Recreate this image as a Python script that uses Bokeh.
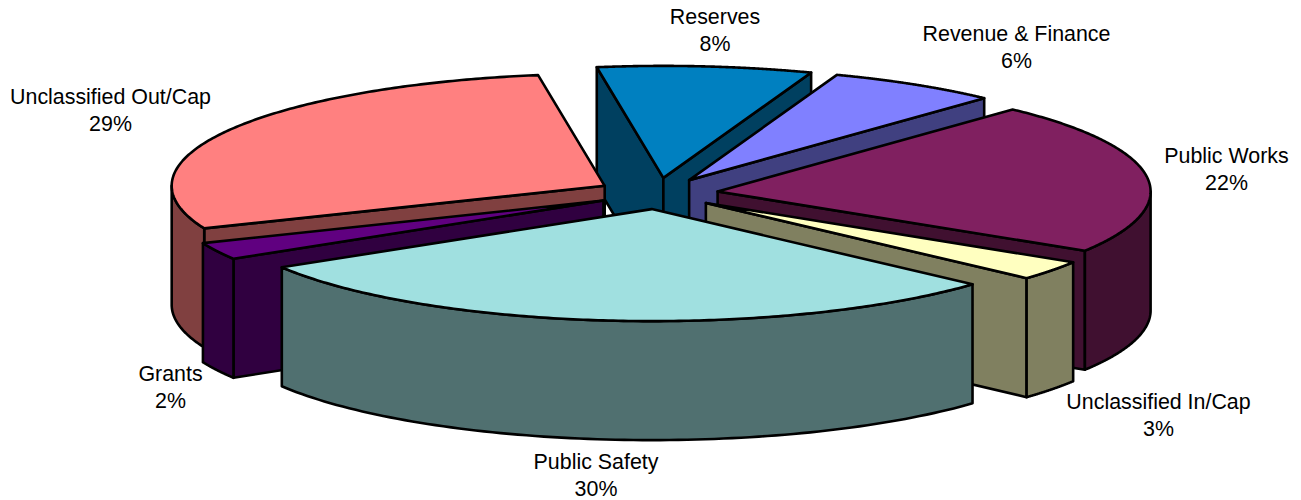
import numpy as np
from bokeh.plotting import figure
from bokeh.models import Range1d
from bokeh.core.properties import value
from bokeh.embed import file_html
from bokeh.resources import INLINE

# Data, in clockwise order starting at Public Safety
categories = ["Public Safety", "Grants", "Unclassified Out/Cap", "Reserves",
              "Revenue & Finance", "Public Works", "Unclassified In/Cap"]
percents = [29.58, 2.49, 28.75, 8.00, 6.39, 21.95, 2.84]

top_colors = ["#A0E0E0", "#600080", "#FF8080", "#0080C0", "#8080FF", "#802060", "#FFFFC0"]
side_colors = ["#507070", "#300040", "#804040", "#004060", "#404080", "#401030", "#808060"]

# Label centres in page pixels
label_x = [595.5, 170, 110, 714.5, 1016, 1226, 1158]
label_y = [461, 373, 96, 16, 33, 155, 401]

# Projection of the pie, in page pixels
CX, CY = 657.0, 193.0
A, B = 433.0, 112.0
DEPTH = 119.0
EXPLODE = 0.14
START = 42.2
PAINT_ORDER = [3, 4, 2, 5, 1, 6, 0]

p = figure(width=1301, height=500, output_backend="svg", toolbar_location=None,
           x_range=Range1d(0, 1301), y_range=Range1d(500, 0), min_border=0,
           outline_line_color=None)
p.axis.visible = False
p.grid.visible = False
p.background_fill_color = "white"
p.border_fill_color = "white"

spans = np.array(percents, dtype=float) * 3.6
starts = START + np.concatenate([[0], np.cumsum(spans)[:-1]])
ends = starts + spans


def face(xs, ys, color):
    p.patch(list(xs), list(ys), fill_color=color, line_color="black",
            line_width=2.6, line_join="round")


for i in PAINT_ORDER:
    t0, t1 = np.radians(starts[i]), np.radians(ends[i])
    mid = (t0 + t1) / 2
    ax = CX + EXPLODE * A * np.cos(mid)
    ay = CY + EXPLODE * B * np.sin(mid)
    ex = lambda t: ax + A * np.cos(t)
    ey = lambda t: ay + B * np.sin(t)

    # radial walls that face the viewer
    if np.cos(t0) < 0:
        face([ax, ex(t0), ex(t0), ax], [ay, ey(t0), ey(t0) + DEPTH, ay + DEPTH], side_colors[i])
    if np.cos(t1) > 0:
        face([ax, ex(t1), ex(t1), ax], [ay, ey(t1), ey(t1) + DEPTH, ay + DEPTH], side_colors[i])

    # outer rim: the parts of the arc on the front half of the ellipse
    for k in (-1, 0, 1):
        lo = max(t0, 2 * np.pi * k)
        hi = min(t1, np.pi + 2 * np.pi * k)
        if hi > lo:
            t = np.linspace(lo, hi, 90)
            face(np.concatenate([ex(t), ex(t[::-1])]),
                 np.concatenate([ey(t), ey(t[::-1]) + DEPTH]), side_colors[i])

    # top face
    t = np.linspace(t0, t1, 160)
    face(np.concatenate([[ax], ex(t)]), np.concatenate([[ay], ey(t)]), top_colors[i])

names = list(categories)
pcts = [f"{round(v)}%" for v in percents]
LINE = 27
p.text(label_x, label_y, text=names, text_font=value("Liberation Sans"), text_font_size="21.4px",
       text_color="black", text_align="center", text_baseline="middle")
p.text(label_x, [y + LINE for y in label_y], text=pcts, text_font=value("Liberation Sans"),
       text_font_size="21.4px", text_color="black", text_align="center", text_baseline="middle")

open("out.html", "w").write(file_html(p, INLINE))
